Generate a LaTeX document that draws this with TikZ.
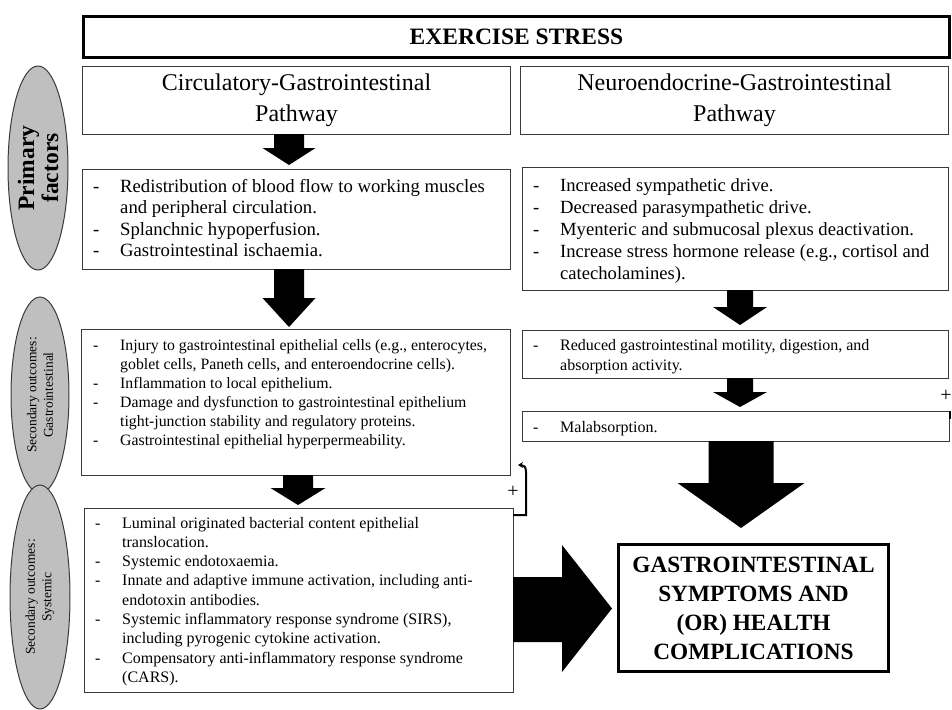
\documentclass[tikz,border=0pt]{standalone}
\usepackage{fontspec}
\setmainfont{Liberation Serif}
\usetikzlibrary{arrows.meta,shapes.geometric}
\definecolor{ovalfill}{HTML}{BFBFBF}
\definecolor{edgegray}{HTML}{3A3A3A}
\newcommand\fs[2]{\fontsize{#1}{#2}\selectfont}
\newcommand\dsh{\makebox[27pt][l]{-}}
% centre x, top y, head start y, tip y, half shaft, half head
\newcommand\vblockarrow[6]{\fill (#1-#5,#2) -- (#1+#5,#2) -- (#1+#5,#3) -- (#1+#6,#3) -- (#1,#4) -- (#1-#6,#3) -- (#1-#5,#3) -- cycle;}
\begin{document}
\begin{tikzpicture}[x=1pt,y=-1pt,
  box/.style={draw=edgegray, line width=1.1pt, inner sep=0pt, anchor=north west},
  heavybox/.style={draw=black, line width=3pt, inner sep=0pt, anchor=north west},
  oval/.style={ellipse, draw=edgegray, line width=1pt, fill=ovalfill, inner sep=0pt, rotate=90, align=center},
  lst/.style={anchor=base west, inner sep=0pt},
  plus/.style={inner sep=0pt, font=\fs{20}{22}}]
\useasboundingbox (0,0) rectangle (952,709);

% side ovals
\node[oval, minimum width=204pt, minimum height=60pt, font=\bfseries\fs{23.5}{24}] (pf) at (38,168) {Primary\\factors};
\node[oval, minimum width=196pt, minimum height=58pt, font=\fs{13.5}{16.5}] (sg) at (40,395) {Secondary outcomes:\\Gastrointestinal};
\node[oval, minimum width=224pt, minimum height=60pt, font=\fs{13.5}{16.5}] (ss) at (40,597) {Secondary outcomes:\\Systemic};

% title and pathway boxes
\node[heavybox, minimum width=866pt, minimum height=41pt, font=\bfseries\fs{23.5}{24}] (ex) at (82,15) {EXERCISE STRESS};
\node[box, minimum width=428pt, minimum height=68pt, align=center, font=\fs{24}{31}] (circ) at (82,66) {Circulatory-Gastrointestinal\\Pathway};
\node[box, minimum width=428pt, minimum height=68pt, align=center, font=\fs{24}{31}] (neuro) at (520,66) {Neuroendocrine-Gastrointestinal\\Pathway};

% left column boxes
\node[box, minimum width=428pt, minimum height=100pt] (pl) at (82,169) {};
\node[lst, font=\fs{18.7}{21.5}] (plt) at (93,192) {\begin{tabular}[t]{@{}l@{}l@{}}
\dsh & Redistribution of blood flow to working muscles\\
 & and peripheral circulation.\\
\dsh & Splanchnic hypoperfusion.\\
\dsh & Gastrointestinal ischaemia.
\end{tabular}};

\node[box, minimum width=429pt, minimum height=146pt] (gi) at (81,329) {};
\node[lst, font=\fs{15.8}{19}] (git) at (93,350) {\begin{tabular}[t]{@{}l@{}l@{}}
\dsh & Injury to gastrointestinal epithelial cells (e.g., enterocytes,\\
 & goblet cells, Paneth cells, and enteroendocrine cells).\\
\dsh & Inflammation to local epithelium.\\
\dsh & Damage and dysfunction to gastrointestinal epithelium\\
 & tight-junction stability and regulatory proteins.\\
\dsh & Gastrointestinal epithelial hyperpermeability.
\end{tabular}};

\node[box, minimum width=429pt, minimum height=184pt] (sys) at (84,508) {};
\node[lst, font=\fs{16}{19.3}] (syst) at (95,528) {\begin{tabular}[t]{@{}l@{}l@{}}
\dsh & Luminal originated bacterial content epithelial\\
 & translocation.\\
\dsh & Systemic endotoxaemia.\\
\dsh & Innate and adaptive immune activation, including anti-\\
 & endotoxin antibodies.\\
\dsh & Systemic inflammatory response syndrome (SIRS),\\
 & including pyrogenic cytokine activation.\\
\dsh & Compensatory anti-inflammatory response syndrome\\
 & (CARS).
\end{tabular}};

% right column boxes
\node[box, minimum width=426pt, minimum height=123pt] (pr) at (522,167) {};
\node[lst, font=\fs{18.6}{22.2}] (prt) at (533,191) {\begin{tabular}[t]{@{}l@{}l@{}}
\dsh & Increased sympathetic drive.\\
\dsh & Decreased parasympathetic drive.\\
\dsh & Myenteric and submucosal plexus deactivation.\\
\dsh & Increase stress hormone release (e.g., cortisol and\\
 & catecholamines).
\end{tabular}};

\node[box, minimum width=426pt, minimum height=48pt] (red) at (522,330) {};
\node[lst, font=\fs{16}{20}] (redt) at (533,350) {\begin{tabular}[t]{@{}l@{}l@{}}
\dsh & Reduced gastrointestinal motility, digestion, and\\
 & absorption activity.
\end{tabular}};

\node[box, minimum width=427pt, minimum height=30pt] (mal) at (522,411) {};
\node[lst, font=\fs{16}{20}] (malt) at (533,432) {\begin{tabular}[t]{@{}l@{}l@{}}
\dsh & Malabsorption.
\end{tabular}};

% outcome box
\node[heavybox, minimum width=270pt, minimum height=127pt, align=center, font=\bfseries\fs{23.3}{29}] (fin) at (617,543) {GASTROINTESTINAL\\SYMPTOMS AND\\(OR) HEALTH\\COMPLICATIONS};

% block arrows
\vblockarrow{289}{134}{148}{165}{15}{26.5}
\vblockarrow{289}{269}{298}{327}{15}{26.5}
\vblockarrow{298}{475}{488}{505}{15}{27.5}
\vblockarrow{740}{290}{307}{325}{13}{27}
\vblockarrow{740}{378}{392}{407}{13}{27}
\vblockarrow{741}{441}{483}{528}{32.5}{63.5}
\fill (513,577) -- (562,577) -- (562,545) -- (612,608.5) -- (562,672) -- (562,642) -- (513,642) -- cycle;

% feedback bracket
\coordinate (bl) at (513,515);
\coordinate (bt) at (518,465);
\draw[line width=2pt, -{Stealth[length=5pt,width=6pt]}] (bl) -- (526,515) -- (526,472) .. controls (526,467) and (524,465) .. (bt);
\node[plus] (p1) at (513,492) {+};

% cut-off mark at right edge
\node[plus] (p2) at (946,396) {+};
\coordinate (rt1) at (950,411);
\coordinate (rt2) at (950,419);
\draw[line width=2pt] (rt1) -- (rt2);
\end{tikzpicture}
\end{document}
